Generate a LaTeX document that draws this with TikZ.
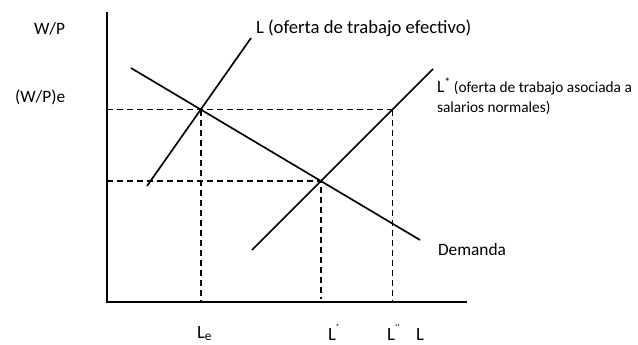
\documentclass[tikz,border=0pt]{standalone}
\usepackage{fontspec}
\setmainfont{Carlito}
\usetikzlibrary{intersections}
\begin{document}
\begin{tikzpicture}[x=0.75pt,y=-0.75pt,inner sep=0pt,outer sep=0pt,
axis/.style={line width=1.7pt},
curve/.style={line width=1.25pt},
guide/.style={line width=1.2pt,dash pattern=on 4.5pt off 3pt},
txt/.style={anchor=base west,font=\fontsize{13}{15}\selectfont},
big/.style={anchor=base west,font=\fontsize{14}{16}\selectfont},
small/.style={anchor=base west,font=\fontsize{11.5}{13}\selectfont},
tick/.style={anchor=base west,font=\fontsize{14}{17}\selectfont}]
\useasboundingbox (0,0) rectangle (638,344);
\coordinate (top) at (107,12);
\coordinate (O) at (107,302);
\coordinate (xend) at (467,302);
\draw[axis] (top) -- (O) -- (xend);
\coordinate (Lbot) at (147,186);
\coordinate (Ltop) at (251,38);
\coordinate (Dtop) at (131,68);
\coordinate (Dbot) at (420,240);
\coordinate (Sbot) at (252,250);
\coordinate (Stop) at (433,69);
\draw[curve,name path=ofL] (Lbot) -- (Ltop);
\draw[curve,name path=dem] (Dtop) -- (Dbot);
\draw[curve,name path=ofS] (Sbot) -- (Stop);
\path[name intersections={of=ofL and dem,by=E}];
\path[name intersections={of=ofS and dem,by=Ep}];
\path[name path=hE] (O|-E) -- ++(400,0);
\path[name intersections={of=hE and ofS,by=Epp}];
\draw[guide] (O|-E) -- (Epp);
\draw[guide] (E) -- (E|-O);
\draw[guide] (Epp) -- (Epp|-O);
\draw[guide] (O|-Ep) -- (Ep) -- ([yshift=2]Ep|-O);
\node[txt] (wp) at (34,34) {W/P};
\node[txt] (wpe) at (15,102) {(W/P)e};
\node[big] (lab1) at (256,33) {L (oferta de trabajo efectivo)};
\node[txt] (lab2) at (437,92) {L\textsuperscript{*}\,{\fontsize{11.5}{13}\selectfont(oferta de trabajo asociada a}};
\node[small] (lab3) at (437,112) {salarios normales)};
\node[txt] (lab4) at (438,255) {Demanda};
\node[tick] (Le) at (197,338) {L{\fontsize{10}{12}\selectfont\raisebox{-2pt}{e}}};
\node[tick] (Lp) at (328,340) {L\textsuperscript{´}};
\node[tick] (Lpp) at (387,340) {L\textsuperscript{¨}};
\node[tick] (Lx) at (416,340) {L};
\end{tikzpicture}
\end{document}
